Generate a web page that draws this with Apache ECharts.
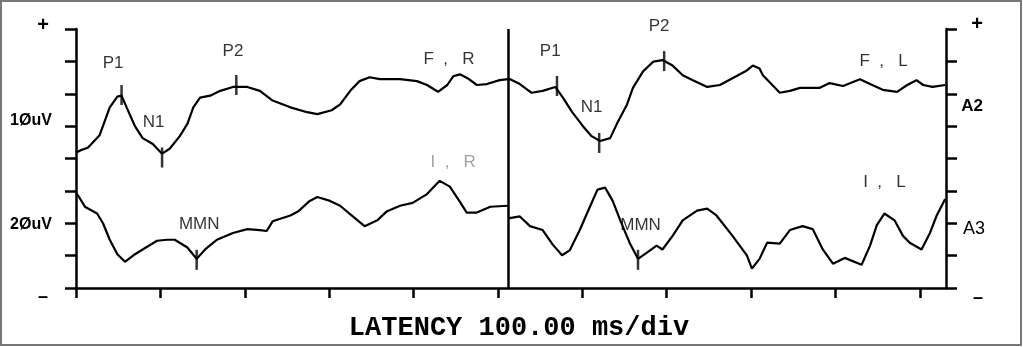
<!DOCTYPE html>
<html><head><meta charset="utf-8">
<script src="https://cdn.jsdelivr.net/npm/echarts@6/dist/echarts.min.js"></script>
<style>html,body{margin:0;padding:0;background:#fff}#c{width:1023px;height:347px}</style>
</head><body><div id="c"></div>
<script>
// Latency in ms (x), amplitude in divisions (y, 0..8)
const xTicks = [0,100,200,300,400,500,600,700,800,900,1000];
const yTicks = [0,1,2,3,4,5,6,7,8];
const dividerMs = 512;

const traceFR = [[0,4.18],[5,4.25],[14,4.33],[28,4.72],[40,5.58],[49,5.91],[54,5.94],[60,5.58],[70,4.99],[79,4.63],[91,4.45],[102,4.15],[111,4.30],[123,4.69],[132,5.07],[139,5.58],[147,5.88],[159,5.94],[171,6.09],[186,6.21],[203,6.21],[218,6.09],[233,5.79],[254,5.58],[274,5.43],[286,5.37],[303,5.49],[313,5.67],[325,6.09],[336,6.39],[348,6.51],[360,6.45],[384,6.45],[404,6.39],[416,6.27],[429,6.06],[440,6.27],[447,6.54],[455,6.60],[464,6.48],[475,6.27],[487,6.30],[502,6.42],[512,6.45]];
const traceFL = [[512,6.48],[526,6.30],[540,6.03],[553,6.09],[568,6.21],[577,5.88],[588,5.43],[601,4.99],[611,4.69],[621,4.54],[633,4.63],[641,5.07],[653,5.67],[660,6.18],[672,6.69],[684,6.99],[695,7.04],[707,6.87],[719,6.57],[731,6.42],[748,6.21],[763,6.27],[778,6.48],[795,6.72],[802,6.87],[810,6.78],[814,6.57],[834,6.03],[846,6.09],[858,6.18],[881,6.18],[893,6.33],[909,6.24],[929,6.45],[941,6.30],[956,6.12],[973,6.06],[985,6.27],[996,6.42],[1004,6.27],[1015,6.21],[1030,6.27]];
const traceIR = [[0,2.95],[5,2.75],[11,2.50],[25,2.30],[32,2.00],[40,1.49],[49,1.04],[58,0.81],[68,1.01],[79,1.19],[96,1.46],[108,1.49],[117,1.49],[132,1.25],[143,0.90],[153,1.19],[167,1.49],[186,1.70],[203,1.82],[218,1.79],[226,1.76],[233,2.06],[254,2.24],[263,2.36],[277,2.69],[286,2.81],[301,2.69],[313,2.54],[328,2.21],[342,1.91],[357,2.09],[368,2.36],[384,2.54],[399,2.63],[416,2.90],[431,3.31],[443,3.13],[455,2.66],[463,2.33],[475,2.33],[491,2.51],[512,2.54]];
const traceIL = [[512,2.15],[526,2.21],[538,1.91],[553,1.79],[565,1.34],[576,1.01],[585,1.16],[597,1.79],[609,2.51],[618,3.04],[627,3.10],[636,2.69],[645,2.09],[656,1.40],[666,0.90],[677,1.10],[688,1.31],[695,1.19],[707,1.61],[719,2.09],[736,2.39],[748,2.45],[759,2.24],[778,1.61],[795,1.01],[801,0.60],[810,0.90],[819,1.40],[834,1.37],[846,1.79],[861,1.91],[873,1.82],[885,1.19],[897,0.75],[911,0.93],[931,0.72],[941,1.31],[949,1.94],[958,2.30],[970,2.09],[980,1.61],[988,1.40],[1002,1.19],[1012,1.70],[1020,2.24],[1030,2.75]];

// Peak latency marks
const peakMarks = [[54,5.96],[102,4.03],[190,6.27],[143,0.87],[570,6.24],[620,4.48],[697,7.01],[666,0.87]];
// Annotation texts [text, ms, div]
const annotations = [
  ['P1',44,6.94],['N1',92,5.13],['P2',186,7.31],['F  ,   R',442,7.07],['MMN',146,1.97],
  ['P1',562,7.31],['N1',611,5.58],['P2',691,8.09],['F  ,   L',957,6.99],['I  ,   L',958,3.25],['MMN',669,1.94]
];
const fadedAnnotations = [['I  ,   R',447,3.88]];

const chart = echarts.init(document.getElementById('c'), null, {renderer:'canvas'});
const axisBlack = {color:'#000', width:2.5};
const yAxisBase = {
  type:'value', min:0, max:8, interval:1,
  axisLine:{show:true, onZero:false, lineStyle:axisBlack},
  axisTick:{show:true, inside:false, length:11, lineStyle:axisBlack},
  axisLabel:{show:false}, splitLine:{show:false}
};
const lineSeries = (data) => ({
  type:'line', data, showSymbol:false, symbol:'none', smooth:false,
  lineStyle:{color:'#000', width:2.2}, silent:true
});
const textSeries = (list, color) => ({
  type:'scatter', symbolSize:1, clip:false, silent:true,
  itemStyle:{color:'rgba(0,0,0,0)'},
  data: list.map(a => ({name:a[0], value:[a[1],a[2]]})),
  label:{show:true, position:'inside', formatter:p=>p.name, color, fontSize:17,
         fontFamily:'Liberation Sans, Arial, sans-serif'}
});
const series = [
  Object.assign(lineSeries(traceFR), {markLine:{silent:true, symbol:['none','none'], label:{show:false},
     lineStyle:{color:'#000', width:2.5, type:'solid'}, data:[{xAxis:dividerMs}]}}),
  lineSeries(traceFL), lineSeries(traceIR), lineSeries(traceIL),
  {type:'scatter', data:peakMarks, symbol:'rect', symbolSize:[2.5,20], itemStyle:{color:'#000'}, silent:true},
  textSeries(annotations, '#000'),
  textSeries(fadedAnnotations, '#8a8a8a')
];
const txt = (text, x, y, size, bold, align) => ({
  type:'text', x, y, style:{text, fill:'#000', font:(bold?'bold ':'')+size+'px "Liberation Sans", Arial, sans-serif',
  align:align||'center', verticalAlign:'middle'}
});
chart.setOption({
  animation:false,
  backgroundColor:'#fff',
  grid:{left:76, right:77, top:29, bottom:50},
  xAxis:{type:'value', min:0, max:1031, interval:100,
    axisLine:{show:true, onZero:false, lineStyle:axisBlack},
    axisTick:{show:true, inside:false, length:10, lineStyle:axisBlack, customValues:xTicks},
    axisLabel:{show:false}, splitLine:{show:false},
    name:'LATENCY 100.00 ms/div', nameLocation:'middle', nameGap:27,
    nameTextStyle:{fontFamily:'Liberation Mono, Courier New, monospace', fontWeight:'bold', fontSize:27, color:'#000', padding:[0,0,0,16]}
  },
  yAxis:[Object.assign({position:'left'}, yAxisBase), Object.assign({position:'right'}, yAxisBase)],
  series,
  graphic:[
    {type:'rect', shape:{x:1, y:1, width:1020, height:344}, style:{fill:'none', stroke:'#777', lineWidth:2}, silent:true},
    txt('+', 43, 25, 20, true), txt('+', 977, 24, 20, true),
    txt('\u2013', 43, 297, 18, true), txt('\u2013', 978, 298, 18, true),
    txt('1\u00D8uV', 31, 121, 16, true), txt('2\u00D8uV', 31, 225, 16, true),
    txt('A2', 972, 106, 17, true), txt('A3', 974, 229, 18, false)
  ]
});
</script></body></html>
